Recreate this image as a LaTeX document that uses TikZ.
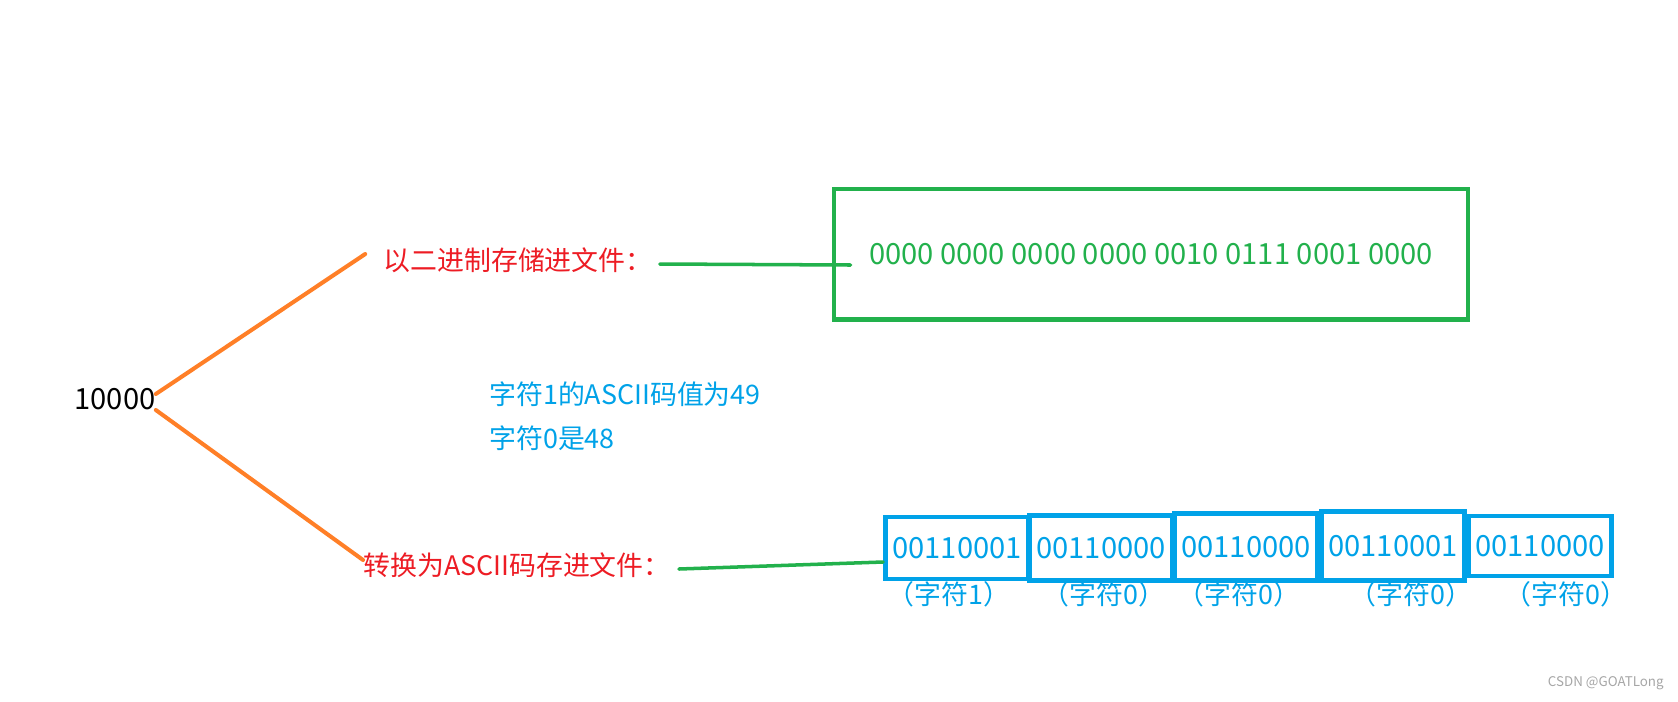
\documentclass[tikz,border=0pt]{standalone}
\usepackage{fontspec}
\setmainfont{Noto Sans CJK SC}
\usetikzlibrary{positioning,calc}
\definecolor{pOrange}{RGB}{255,127,39}
\definecolor{pGreen}{RGB}{34,177,76}
\definecolor{pRed}{RGB}{237,28,36}
\definecolor{pBlue}{RGB}{0,162,232}

\begin{document}
\begin{tikzpicture}[
  x=0.02cm, y=-0.02cm,
  font=\fontsize{15.3}{18}\selectfont,
  txt/.style={inner sep=0pt},
  digits/.style={font=\fontsize{16.6}{20}\selectfont},
  byte/.style={draw=pBlue, line width=2.8pt, text=pBlue, digits, minimum width=2.86cm, minimum height=1.24cm, inner sep=0pt},
  tag/.style={text=pBlue, inner sep=0pt},
  oline/.style={draw=pOrange, line width=2.3pt, line cap=round},
  gline/.style={draw=pGreen, line width=2pt, line cap=round},
]
\useasboundingbox (0,0) rectangle (1678,701);
% the number
\node[txt, digits] (num) at (115,399) {10000};
% binary file
\node[txt, text=pRed] (bin) at (518,260) {以二进制存储进文件：};
\node[draw=pGreen, line width=2.3pt, text=pGreen, digits, minimum width=12.7cm, minimum height=2.62cm] (binbox) at (1151,254)
  {0000 0000 0000 0000 0010 0111 0001 0000};
\draw[oline] ($(num.east)+(0,-5)$) -- ($(bin.west)+(-18,-6)$);
\draw[gline] ($(bin.east)+(7,4)$) -- ($(binbox.west)+(19,11)$);
% ascii notes
\node[txt, text=pBlue, anchor=west] (note1) at (489,394) {字符1的ASCII码值为49};
\node[txt, text=pBlue, anchor=west] (note2) at (489,438) {字符0是48};
% text file
\node[txt, text=pRed] (asc) at (517,565) {转换为ASCII码存进文件：};
\node[byte] (b1) at (957,548) {00110001};
\node[byte, minimum height=1.3cm] (b2) at (1101,548) {00110000};
\node[byte, minimum height=1.34cm] (b3) at (1246,547) {00110000};
\node[byte, minimum height=1.38cm] (b4) at (1393,546) {00110001};
\node[byte, minimum height=1.2cm] (b5) at (1540,546) {00110000};
\draw[oline] ($(num.east)+(0,11)$) -- ($(asc.west)+(0,-5)$);
\draw[gline] ($(asc.east)+(8,4)$) -- ($(b1.west)+(0,14)$);
\node[tag] (t1) at (949,594) {（字符1）};
\node[tag] (t2) at (1104,594) {（字符0）};
\node[tag] (t3) at (1239,594) {（字符0）};
\node[tag] (t4) at (1411,594) {（字符0）};
\node[tag] (t5) at (1566,594) {（字符0）};
% watermark
\node[txt, text=gray!70, font=\fontsize{7.6}{10}\selectfont, anchor=east] (mark) at (1664,683) {CSDN @GOATLong};
\end{tikzpicture}
\end{document}
